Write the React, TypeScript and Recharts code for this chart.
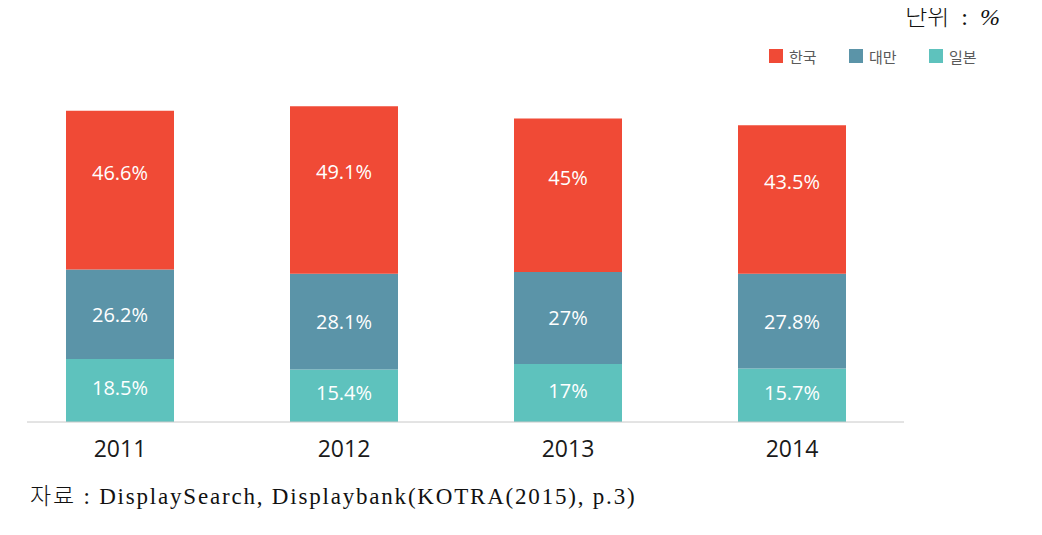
import React from "react"
import { BarChart, Bar, XAxis, YAxis, LabelList } from "recharts"

const years = ["2011", "2012", "2013", "2014"]
const korea = [46.6, 49.1, 45, 43.5]
const taiwan = [26.2, 28.1, 27, 27.8]
const japan = [18.5, 15.4, 17, 15.7]

const seriesNames = { japan: "일본", taiwan: "대만", korea: "한국" }
const colors = { korea: "#f04a36", taiwan: "#5b94a8", japan: "#5ec2bd" }

const data = years.map((year, i) => ({
  year,
  japan: japan[i],
  taiwan: taiwan[i],
  korea: korea[i],
}))

const legendOrder = ["korea", "taiwan", "japan"] as const

function LegendBox() {
  return (
    <div style={{ position: "absolute", top: 38, left: 761, display: "flex", height: 20 }}>
      {legendOrder.map((k) => (
        <div key={k} style={{ display: "flex", alignItems: "center", width: 80 }}>
          <span style={{ width: 14, height: 14, background: colors[k], display: "inline-block", marginRight: 6 }} />
          <span style={{ fontSize: 15, color: "#5a5a5a", fontFamily: "'Noto Sans CJK KR', sans-serif" }}>{seriesNames[k]}</span>
        </div>
      ))}
    </div>
  )
}

const makeLabel = (shift: number) => (props: any) => {
  const { x, y, width, height, value } = props
  return (
    <text
      x={x + width / 2}
      y={y + height / 2 + shift}
      fill="#fff"
      textAnchor="middle"
      dominantBaseline="central"
      fontSize={20}
      fontFamily="'Open Sans', sans-serif"
    >
      {`${value}%`}
    </text>
  )
}

export default function App() {
  return (
    <div style={{ position: "relative", width: 1026, height: 519 }}>
      <div
        style={{
          position: "absolute",
          right: 34,
          top: -11,
          fontSize: 24,
          fontWeight: 300,
          fontFamily: "'Liberation Serif', 'Noto Sans CJK KR', serif",
          color: "#111",
          whiteSpace: "pre",
        }}
      >
        단위  :  <i>%</i>
      </div>
      <LegendBox />
      <BarChart
        width={1026}
        height={480}
        data={data}
        margin={{ top: 73, right: 130, bottom: 26, left: 19 }}
        barSize={108}
      >
        <XAxis
          dataKey="year"
          axisLine={{ stroke: "#c8c8c8" }}
          tickLine={false}
          tickSize={17}
          tickMargin={2}
          height={40}
          padding={{ left: -19, right: 0 }}
          tick={{ fontSize: 23, fill: "#1a1a1a", fontFamily: "'Open Sans', sans-serif" }}
        />
        <YAxis hide domain={[0, 100]} />
        <Bar dataKey="japan" stackId="a" fill={colors.japan} isAnimationActive={false}>
          <LabelList dataKey="japan" content={makeLabel(-3)} />
        </Bar>
        <Bar dataKey="taiwan" stackId="a" fill={colors.taiwan} isAnimationActive={false}>
          <LabelList dataKey="taiwan" content={makeLabel(0)} />
        </Bar>
        <Bar dataKey="korea" stackId="a" fill={colors.korea} isAnimationActive={false}>
          <LabelList dataKey="korea" content={makeLabel(-18)} />
        </Bar>
      </BarChart>
      <div
        style={{
          position: "absolute",
          left: 22,
          top: 469,
          fontSize: 23,
          fontWeight: 300,
          letterSpacing: 1.8,
          fontFamily: "'Liberation Serif', 'Noto Sans CJK KR', serif",
          color: "#111",
          whiteSpace: "pre",
        }}
      >
        자료 : DisplaySearch, Displaybank(KOTRA(2015), p.3)
      </div>
    </div>
  )
}
